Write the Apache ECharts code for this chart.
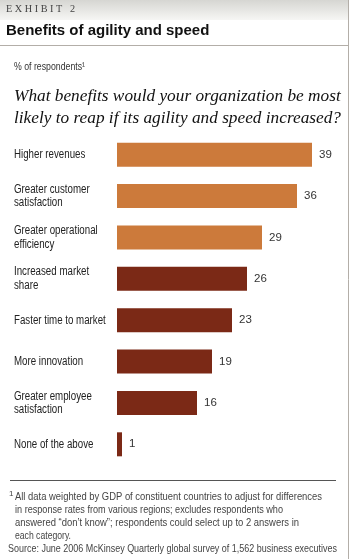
<!DOCTYPE html>
<html>
<head>
<meta charset="utf-8">
<script src="https://cdn.jsdelivr.net/npm/echarts@6/dist/echarts.min.js"></script>
<style>
  html, body { margin: 0; padding: 0; background: #fff; }
  #chart { width: 350px; height: 559px; }
</style>
</head>
<body>
<div id="chart"></div>
<script>
const CATEGORIES = [
    'Higher revenues',
    'Greater customer\nsatisfaction',
    'Greater operational\nefficiency',
    'Increased market\nshare',
    'Faster time to market',
    'More innovation',
    'Greater employee\nsatisfaction',
    'None of the above'
];
const VALUES = [39, 36, 29, 26, 23, 19, 16, 1];
const BAR_COLORS = ['#cc7a3b', '#cc7a3b', '#cc7a3b', '#7b2916', '#7b2916', '#7b2916', '#7b2916', '#7b2916'];

const FOOTNOTE_LINES = [
    'All data weighted by GDP of constituent countries to adjust for differences',
    'in response rates from various regions; excludes respondents who',
    'answered \u201cdon\u2019t know\u201d; respondents could select up to 2 answers in',
    'each category.'
];
const SOURCE = 'Source: June 2006 McKinsey Quarterly global survey of 1,562 business executives';

const SANS = '"Liberation Sans", Arial, sans-serif';
const SERIF = '"Liberation Serif", "DejaVu Serif", serif';
const LABEL_FONT = '12px ' + SANS;
const LABEL_SCALE = 0.81;

// squeeze a line of text so it spans the given width (the original uses a condensed face)
const measureCtx = document.createElement('canvas').getContext('2d');
function fitScale(text, font, width) {
    measureCtx.font = font;
    return width / measureCtx.measureText(text).width;
}

function narrowText(x, y, text, font, width, fill) {
    return {
        type: 'text', x: x, y: y, scaleX: fitScale(text, font, width),
        style: { text: text, font: font, fill: fill || '#444', verticalAlign: 'middle' }
    };
}

const chart = echarts.init(document.getElementById('chart'), null, { renderer: 'canvas' });

const graphics = [
    {
        type: 'rect', shape: { x: 0, y: 0, width: 348, height: 20 },
        style: {
            fill: new echarts.graphic.LinearGradient(0, 0, 0, 1, [
                { offset: 0, color: '#d6d6d2' },
                { offset: 1, color: '#f6f6f4' }
            ])
        }
    },
    { type: 'line', shape: { x1: 348.5, y1: 0, x2: 348.5, y2: 559 }, style: { stroke: '#b3aea8', lineWidth: 1 } },
    { type: 'line', shape: { x1: 0, y1: 45.5, x2: 348, y2: 45.5 }, style: { stroke: '#b3aea8', lineWidth: 1 } },
    narrowText(6, 9, 'E X H I B I T   2', '10px ' + SERIF, 69, '#444'),
    {
        type: 'text', x: 6, y: 31,
        style: { text: 'Benefits of agility and speed', font: 'bold 15px Arial, "Liberation Sans", sans-serif', fill: '#111', verticalAlign: 'middle' }
    },
    narrowText(14, 67, '% of respondents\u00b9', '11px ' + SANS, 71, '#333'),
    {
        type: 'text', x: 14, y: 96,
        style: { text: 'What benefits would your organization be most', font: 'italic 17.3px ' + SERIF, fill: '#111', verticalAlign: 'middle' }
    },
    {
        type: 'text', x: 14, y: 118,
        style: { text: 'likely to reap if its agility and speed increased?', font: 'italic 17.3px ' + SERIF, fill: '#111', verticalAlign: 'middle' }
    },
    { type: 'line', shape: { x1: 10, y1: 480.5, x2: 336, y2: 480.5 }, style: { stroke: '#555', lineWidth: 1 } },
    {
        type: 'text', x: 9, y: 494,
        style: { text: '1', font: '8px ' + SANS, fill: '#444', verticalAlign: 'middle' }
    },
    narrowText(8, 549, SOURCE, '11px ' + SANS, 329, '#444')
];

const FOOT_WIDTHS = [307, 268, 284, 56];
FOOTNOTE_LINES.forEach((line, i) => {
    graphics.push(narrowText(15, 497 + i * 13, line, '10.5px ' + SANS, FOOT_WIDTHS[i], '#444'));
});

chart.setOption({
    animation: false,
    backgroundColor: '#fff',
    grid: { left: 117, right: 3, top: 134, height: 331, containLabel: false },
    xAxis: { type: 'value', min: 0, max: 46, show: false },
    yAxis: {
        type: 'category',
        inverse: true,
        data: CATEGORIES,
        axisLine: { show: false },
        axisTick: { show: false },
        splitLine: { show: false },
        axisLabel: { show: false }
    },
    series: [
        {
            type: 'bar',
            barWidth: 24,
            data: VALUES.map((v, i) => ({ value: v, itemStyle: { color: BAR_COLORS[i] } })),
            label: {
                show: true,
                position: 'right',
                distance: 7,
                color: '#333',
                fontFamily: SANS,
                fontSize: 11.5
            }
        },
        {
            // category names, placed on the category axis
            type: 'custom',
            silent: true,
            data: CATEGORIES.map((c, i) => [0, i]),
            encode: { x: 0, y: 1 },
            renderItem: (params, api) => {
                const pos = api.coord([0, api.value(1)]);
                return {
                    type: 'text',
                    x: 14,
                    y: pos[1],
                    scaleX: LABEL_SCALE,
                    style: {
                        text: CATEGORIES[params.dataIndex],
                        font: LABEL_FONT,
                        lineHeight: 13.5,
                        fill: '#222',
                        verticalAlign: 'middle'
                    }
                };
            }
        }
    ],
    graphic: graphics
});
</script>
</body>
</html>
